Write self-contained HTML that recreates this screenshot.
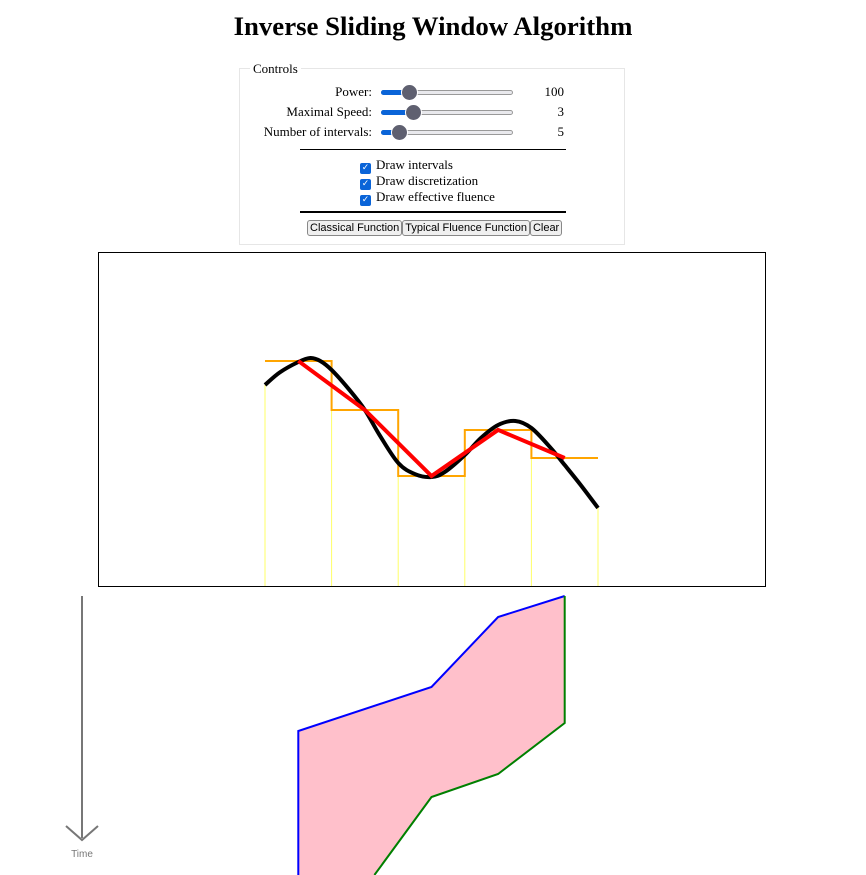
<!DOCTYPE html>
<html style="overflow:hidden"><head><meta charset="utf-8">
<style>
html,body{margin:0;width:866px;height:875px;overflow:hidden}
body{background:#fff;font-family:"Liberation Serif",serif;position:relative}
h1{position:absolute;top:11px;left:0;width:866px;text-align:center;margin:0;font-size:26.8px;font-weight:bold}
.fs{position:absolute;left:239px;top:68px;width:386px;height:177px;box-sizing:border-box;border:1px solid #e6e6e6}
.lg{position:absolute;left:10px;top:-8px;font-size:13px;padding:0 3px;background:#fff}
.row{position:absolute;font-size:13px;left:0;width:386px}
.lbl{position:absolute;left:-68px;width:200px;text-align:right}
.sl{position:absolute;left:141px;top:6px;width:132px;height:5px;background:#e9e9ed;border:1px solid #999;border-radius:3px;box-sizing:border-box}
.fill{position:absolute;left:-1px;top:-1px;height:5px;background:#0a64d8;border-radius:3px}
.th{position:absolute;top:-7px;width:17px;height:17px;border-radius:50%;background:#5f6070;border:1px solid #fff;box-sizing:border-box}
.val{position:absolute;left:300px;width:24px;text-align:right}
.hr{position:absolute;background:#000;left:60px;width:266px}
.cb{position:absolute;left:120px;font-size:13px}
.cb span{display:inline-block;width:11px;height:11px;background:#0a64d8;border-radius:2px;color:#fff;font-size:9px;line-height:11px;text-align:center;vertical-align:-1px;margin-right:5px;font-family:"DejaVu Sans",sans-serif}
.btns{position:absolute;top:151px;left:67px;font-family:"Liberation Sans",sans-serif;font-size:11px;white-space:nowrap;display:flex}
.btns button{font:inherit;padding:0 2px;margin:0;border:1px solid #888;border-radius:3px;background:#efefef;height:16px;line-height:13px}
</style></head><body>
<h1>Inverse Sliding Window Algorithm</h1>
<div class="fs">
<div class="lg">Controls</div>
<div class="row" style="top:15px">
 <div class="lbl">Power:</div>
 <div class="sl"><div class="fill" style="width:30px"></div><div class="th" style="left:19px"></div></div>
 <div class="val">100</div></div>
<div class="row" style="top:35px">
 <div class="lbl">Maximal Speed:</div>
 <div class="sl"><div class="fill" style="width:32px"></div><div class="th" style="left:23px"></div></div>
 <div class="val">3</div></div>
<div class="row" style="top:55px">
 <div class="lbl">Number of intervals:</div>
 <div class="sl"><div class="fill" style="width:20px"></div><div class="th" style="left:9px"></div></div>
 <div class="val">5</div></div>
<div class="hr" style="top:80px;height:1px"></div>
<div class="cb" style="top:88px"><span>✓</span>Draw intervals</div>
<div class="cb" style="top:104px"><span>✓</span>Draw discretization</div>
<div class="cb" style="top:120px"><span>✓</span>Draw effective fluence</div>
<div class="hr" style="top:142px;height:2px"></div>
<div class="btns"><button>Classical Function</button><button>Typical Fluence Function</button><button>Clear</button></div>
</div>
<svg id="top" width="866" height="875" style="position:absolute;left:0;top:0;overflow:hidden">
<rect x="98.5" y="252.5" width="667" height="334" fill="none" stroke="#000"/>
<line x1="82" y1="596" x2="82" y2="838" stroke="#777" stroke-width="2"/>
<polyline points="66,826 82,840 98,826" fill="none" stroke="#777" stroke-width="2"/>
<text x="82" y="857" text-anchor="middle" font-family="Liberation Sans,sans-serif" font-size="10" fill="#777">Time</text>
</svg>
<script>
// curve samples (x in interval units 0..5, y fluence)
const curveX=[0,0.22,0.5,0.68,0.83,1,1.27,1.5,1.72,2,2.25,2.5,2.7,3,3.24,3.5,3.76,4,4.29,4.5,4.74,5];
const curveY=[60.7,69,76,78.7,76.7,70.7,57.3,44,27.3,8.7,1.3,-0.7,2.7,14,25.3,34,36.7,32,18.7,7.3,-6,-21.3];
const levels=[76.7,44,0,30.7,12];
const boundaryTop=[60.7,76.7,44,30.7,30.7,-21.3];
const fluenceX=[0.5,2.5,3.5,4.5];
const fluenceTop=[144,188,258,279];
const fluenceBottom=[-104,78,101,152];
const svg=document.getElementById('top');
const NS='http://www.w3.org/2000/svg';
const x0=265,xw=66.6;
const sx=v=>x0+v*xw;
const sy=v=>476-v*1.5;
const fy=v=>875-v;
function mk(t,a){const e=document.createElementNS(NS,t);for(const k in a)e.setAttribute(k,a[k]);svg.appendChild(e);return e;}
boundaryTop.forEach((v,i)=>{const e=mk('line',{x1:sx(i),x2:sx(i),y1:sy(v),y2:586,stroke:'#ffff66','stroke-width':1});

});
let d='';levels.forEach((v,i)=>{d+=(i?'L':'M')+sx(i)+','+sy(v)+'L'+sx(i+1)+','+sy(v);});
const st=mk('path',{d:d,fill:'none',stroke:'orange','stroke-width':2});


const P=curveX.map((x,i)=>[sx(x),sy(curveY[i])]);
let cd='M'+P[0].join(',');
for(let i=0;i<P.length-1;i++){const p0=P[Math.max(0,i-1)],p1=P[i],p2=P[i+1],p3=P[Math.min(P.length-1,i+2)];
cd+='C'+(p1[0]+(p2[0]-p0[0])/6)+','+(p1[1]+(p2[1]-p0[1])/6)+' '+(p2[0]-(p3[0]-p1[0])/6)+','+(p2[1]-(p3[1]-p1[1])/6)+' '+p2[0]+','+p2[1];}
const cv=mk('path',{d:cd,fill:'none',stroke:'#000','stroke-width':4});


const rd=mk('polyline',{points:levels.map((v,i)=>sx(i+0.5)+','+sy(v)).join(' '),fill:'none',stroke:'red','stroke-width':4});


const topPts=fluenceX.map((x,i)=>[sx(x),fy(fluenceTop[i])]);
let botPts=fluenceX.map((x,i)=>[sx(x),fy(fluenceBottom[i])]);
// clip first bottom segment to frame bottom (y=875)
const H=875;
if(botPts[0][1]>H){const a=botPts[0],b=botPts[1];const t=(H-b[1])/(a[1]-b[1]);
const cx=b[0]+(a[0]-b[0])*t;botPts=[[a[0],H],[cx,H]].concat(botPts.slice(1));}
const poly=topPts.concat(botPts.slice().reverse());
const pg=mk('polygon',{points:poly.map(p=>p.join(',')).join(' '),fill:'pink',stroke:'none'});


const bl=mk('polyline',{points:[botPts[0]].concat(topPts).map(p=>p.join(',')).join(' '),fill:'none',stroke:'blue','stroke-width':2});


const gl=mk('polyline',{points:[topPts[topPts.length-1]].concat(botPts.slice(1).reverse()).map(p=>p.join(',')).join(' '),fill:'none',stroke:'green','stroke-width':2});


</script>
</body></html>
